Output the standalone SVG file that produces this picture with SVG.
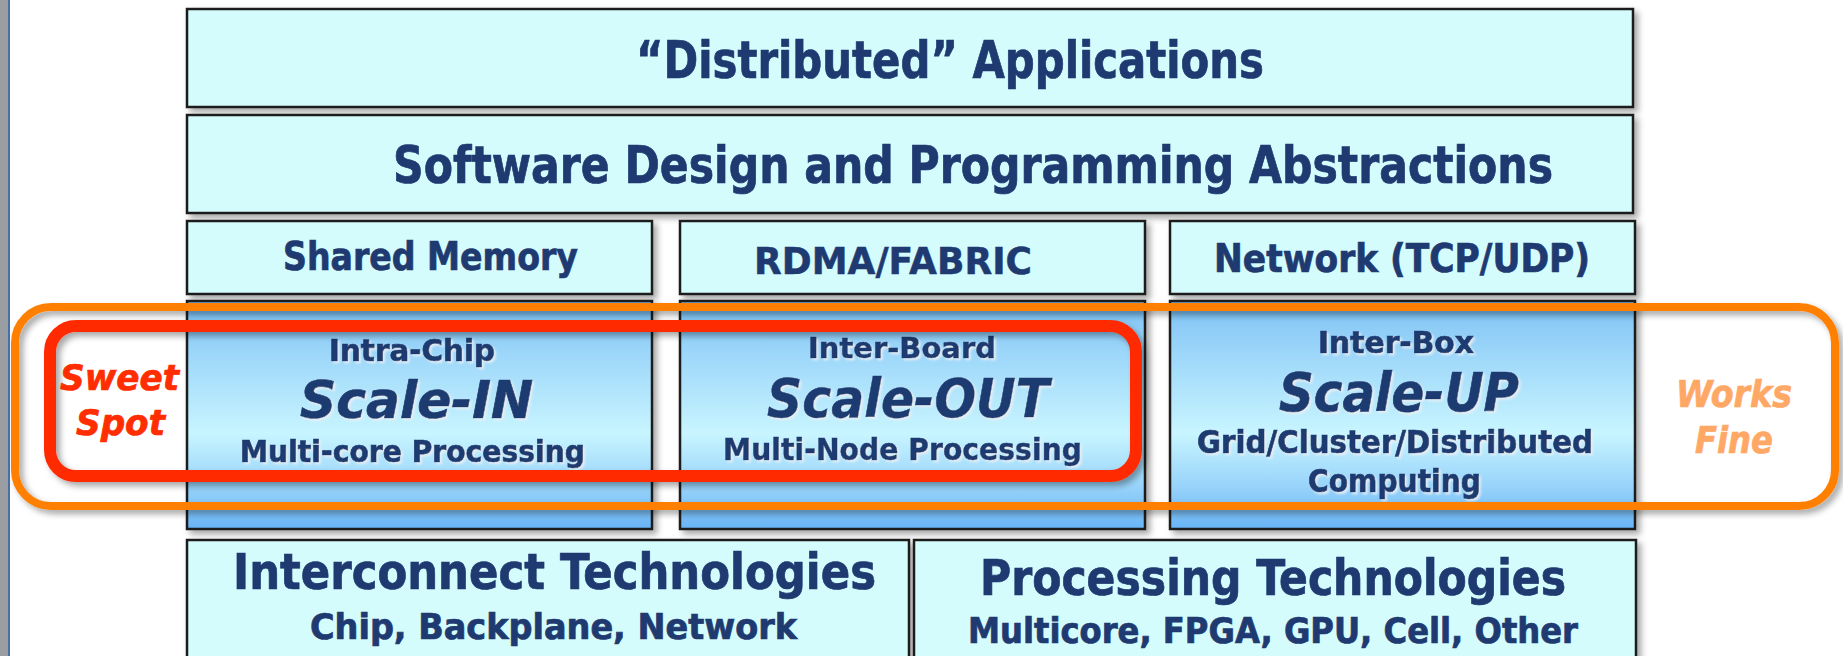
<svg xmlns="http://www.w3.org/2000/svg" width="1843" height="656" viewBox="0 0 1843 656">
<style>
.box{fill:#d5fcfd;stroke:#1a1a1a;stroke-width:2.5;filter:url(#sh)}
.gbox{fill:url(#g4);stroke:#1a1a1a;stroke-width:2.5;filter:url(#sh)}
.t{font-family:"DejaVu Sans Condensed","DejaVu Sans",sans-serif;font-weight:bold;fill:#1e3a70;stroke:#1e3a70;stroke-width:0.7}
.v{font-family:"DejaVu Sans",sans-serif;font-weight:bold;fill:#1e3a70;stroke:#1e3a70;stroke-width:0.5}
.it{font-style:italic}
.ts{filter:url(#tsh)}
.red{fill:#ff2d00;stroke:#ff2d00}
.org{fill:#ffa866;stroke:#ffa866}
</style>
<defs>
<linearGradient id="g4" x1="0" y1="0" x2="0" y2="1">
<stop offset="0" stop-color="#6ab4ee"/>
<stop offset="0.1" stop-color="#8ccbf7"/>
<stop offset="0.58" stop-color="#c8f5ff"/>
<stop offset="0.82" stop-color="#96d2fa"/>
<stop offset="1" stop-color="#68b4f6"/>
</linearGradient>
<filter id="sh" x="-5%" y="-5%" width="110%" height="120%">
<feDropShadow dx="4" dy="4" stdDeviation="3" flood-color="#000" flood-opacity="0.35"/>
</filter>
<filter id="tsh" x="-5%" y="-20%" width="110%" height="140%">
<feDropShadow dx="2" dy="2" stdDeviation="1" flood-color="#e8eef4" flood-opacity="0.9"/>
</filter>
</defs>
<rect x="0" y="0" width="1843" height="656" fill="#ffffff"/>
<rect x="0" y="0" width="8" height="656" fill="#9a9ea3"/>
<rect x="8" y="0" width="2" height="656" fill="#4a6fa5"/>

<g id="apps"><rect class="box" x="187" y="9" width="1446" height="98"/>
<text class="t" x="636" y="78" font-size="51" textLength="628" lengthAdjust="spacingAndGlyphs">“Distributed” Applications</text></g>
<g id="software"><rect class="box" x="187" y="115" width="1446" height="98"/>
<text class="t" x="393" y="183" font-size="51" textLength="1160" lengthAdjust="spacingAndGlyphs">Software Design and Programming Abstractions</text></g>

<g id="shared"><rect class="box" x="187" y="221" width="465" height="73"/>
<text class="t" x="283" y="270" font-size="39" textLength="295" lengthAdjust="spacingAndGlyphs">Shared Memory</text></g>
<g id="rdma"><rect class="box" x="680" y="221" width="465" height="73"/>
<text class="v" x="754" y="274" font-size="37" textLength="278" lengthAdjust="spacingAndGlyphs">RDMA/FABRIC</text></g>
<g id="network"><rect class="box" x="1170" y="221" width="465" height="73"/>
<text class="t" x="1214" y="272" font-size="39" textLength="376" lengthAdjust="spacingAndGlyphs">Network (TCP/UDP)</text></g>

<g id="scalein"><rect class="gbox" x="187" y="301" width="465" height="228"/>
<g class="ts">
<text class="t" x="329" y="361" font-size="31" textLength="166" lengthAdjust="spacingAndGlyphs">Intra-Chip</text>
<text class="t it" x="300" y="418" font-size="51" textLength="233" lengthAdjust="spacingAndGlyphs">Scale-IN</text>
<text class="t" x="240" y="462" font-size="31" textLength="345" lengthAdjust="spacingAndGlyphs">Multi-core Processing</text></g></g>
<g id="scaleout"><rect class="gbox" x="680" y="301" width="465" height="228"/>
<g class="ts">
<text class="v" x="808" y="358" font-size="28" textLength="188" lengthAdjust="spacingAndGlyphs">Inter-Board</text>
<text class="v it" x="767" y="417" font-size="53" textLength="282" lengthAdjust="spacingAndGlyphs">Scale-OUT</text>
<text class="v" x="723" y="460" font-size="30" textLength="359" lengthAdjust="spacingAndGlyphs">Multi-Node Processing</text></g></g>
<g id="scaleup"><rect class="gbox" x="1170" y="301" width="465" height="228"/>
<g class="ts">
<text class="t" x="1318" y="353" font-size="30" textLength="156" lengthAdjust="spacingAndGlyphs">Inter-Box</text>
<text class="t it" x="1279" y="411" font-size="53" textLength="240" lengthAdjust="spacingAndGlyphs">Scale-UP</text>
<text class="t" x="1197" y="453" font-size="32" textLength="396" lengthAdjust="spacingAndGlyphs">Grid/Cluster/Distributed</text>
<text class="t" x="1308" y="492" font-size="32" textLength="173" lengthAdjust="spacingAndGlyphs">Computing</text></g></g>

<g id="interconnect"><rect class="box" x="187" y="540" width="722" height="130"/>
<text class="t" x="233" y="589" font-size="50" textLength="643" lengthAdjust="spacingAndGlyphs">Interconnect Technologies</text>
<text class="t" x="310" y="639" font-size="35" textLength="487" lengthAdjust="spacingAndGlyphs">Chip, Backplane, Network</text></g>
<g id="processing"><rect class="box" x="914" y="540" width="722" height="130"/>
<text class="t" x="980" y="595" font-size="49" textLength="586" lengthAdjust="spacingAndGlyphs">Processing Technologies</text>
<text class="t" x="968" y="643" font-size="35" textLength="610" lengthAdjust="spacingAndGlyphs">Multicore, FPGA, GPU, Cell, Other</text></g>

<g id="worksfine">
<rect x="15" y="307" width="1820" height="199" rx="36" fill="none" stroke="#ff7f00" stroke-width="8" filter="url(#sh)"/>
<text class="t it org" x="1676" y="407" font-size="38" textLength="116" lengthAdjust="spacingAndGlyphs">Works</text>
<text class="t it org" x="1695" y="453" font-size="38" textLength="78" lengthAdjust="spacingAndGlyphs">Fine</text>
</g>
<g id="sweetspot">
<rect x="50" y="326" width="1086" height="150" rx="26" fill="none" stroke="#ff2a00" stroke-width="12" filter="url(#sh)"/>
<text class="t it red" x="60" y="390" font-size="36" textLength="119" lengthAdjust="spacingAndGlyphs">Sweet</text>
<text class="t it red" x="76" y="435" font-size="36" textLength="89" lengthAdjust="spacingAndGlyphs">Spot</text>
</g>
<g id="connectors"/>
</svg>
